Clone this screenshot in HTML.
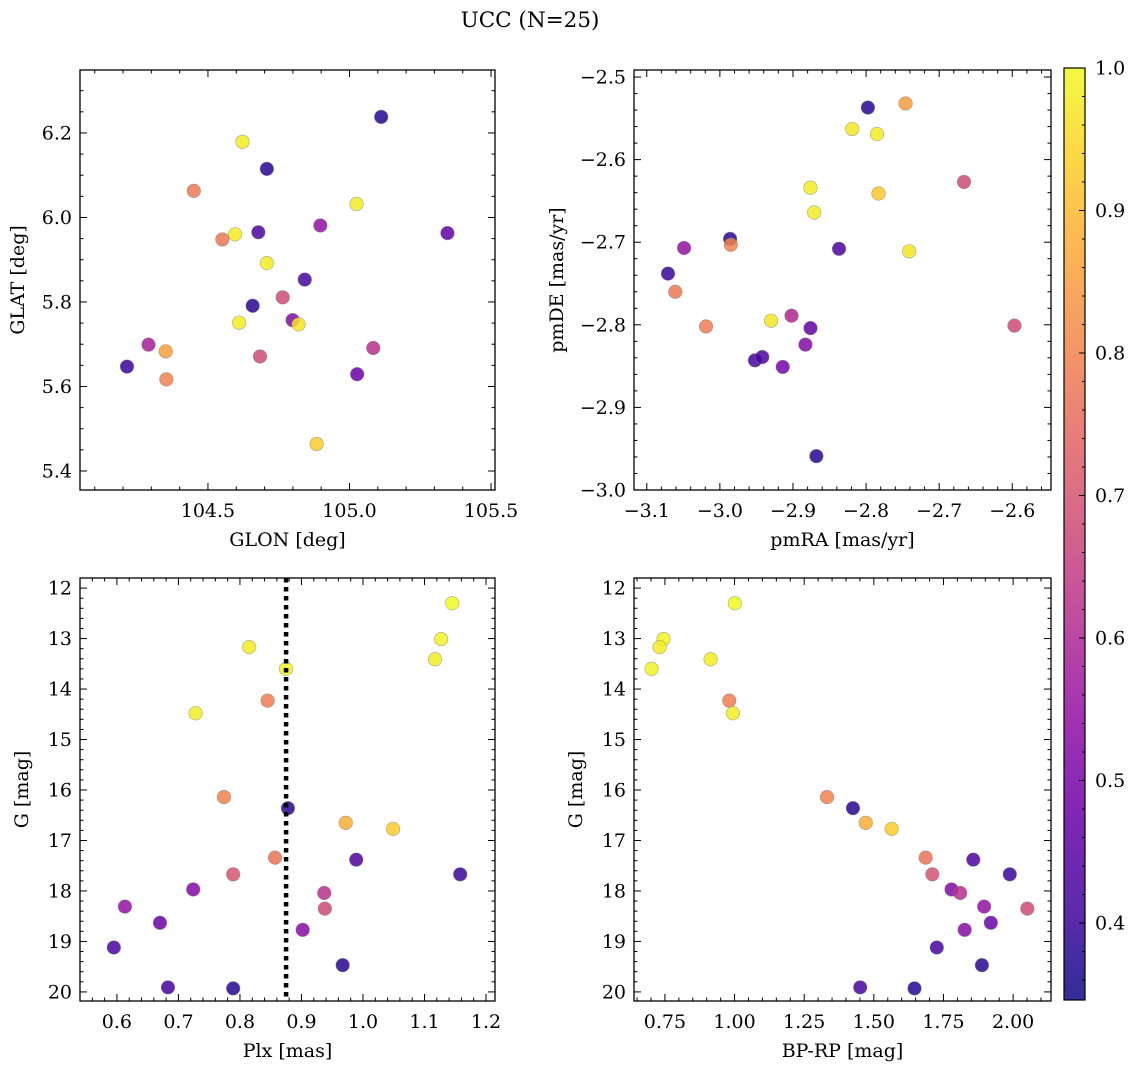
<!DOCTYPE html>
<html><head><meta charset="utf-8">
<style>
html,body{margin:0;padding:0;background:#fff;}
svg{display:block;font-family:"DejaVu Serif","Liberation Serif",serif;}
</style></head>
<body>
<svg id="fig" width="1136" height="1068" viewBox="0 0 1136 1068" xmlns="http://www.w3.org/2000/svg">
<text x="530" y="27" font-size="21.5" text-anchor="middle">UCC (N=25)</text>
</svg>
<script>
// Panel 1: GLON/GLAT
const glon = [105.112,104.622,104.708,104.450,105.025,104.551,104.596,104.678,104.897,105.346,104.708,104.842,104.658,104.764,104.799,104.820,104.610,104.290,104.351,104.684,105.084,104.214,104.353,105.027,104.884];
const glat = [6.238,6.179,6.115,6.063,6.032,5.948,5.960,5.965,5.981,5.963,5.892,5.853,5.791,5.811,5.757,5.747,5.751,5.699,5.683,5.671,5.691,5.647,5.617,5.629,5.464];
const probPos = [0.38,0.98,0.38,0.78,0.98,0.78,0.98,0.43,0.55,0.46,0.98,0.42,0.38,0.68,0.52,0.97,0.98,0.58,0.85,0.68,0.62,0.40,0.80,0.48,0.93];
// Panel 2: proper motions
const pmra = [-2.7975,-2.746,-2.819,-2.785,-2.876,-2.783,-2.871,-2.666,-2.986,-2.985,-3.049,-2.837,-2.741,-3.071,-3.061,-2.597,-3.019,-2.930,-2.902,-2.876,-2.883,-2.952,-2.942,-2.914,-2.868];
const pmde = [-2.537,-2.532,-2.563,-2.569,-2.634,-2.641,-2.664,-2.627,-2.696,-2.703,-2.707,-2.708,-2.711,-2.738,-2.760,-2.801,-2.802,-2.795,-2.789,-2.804,-2.824,-2.843,-2.839,-2.851,-2.959];
const probPm = [0.38,0.85,0.97,0.98,0.98,0.92,0.98,0.68,0.38,0.80,0.55,0.43,0.97,0.40,0.78,0.68,0.79,0.97,0.60,0.47,0.52,0.42,0.43,0.50,0.38];
// Panels 3 & 4: photometry
const plx  = [1.145,1.127,0.815,1.117,0.875,0.845,0.728,0.774,0.878,0.972,1.049,0.857,0.989,1.158,0.789,0.724,0.937,0.613,0.938,0.670,0.902,0.595,0.967,0.683,0.789];
const gmag = [12.30,13.01,13.17,13.41,13.60,14.23,14.48,16.14,16.36,16.65,16.77,17.34,17.38,17.67,17.67,17.97,18.04,18.31,18.35,18.63,18.77,19.12,19.47,19.91,19.93];
const bprp = [1.001,0.745,0.731,0.914,0.702,0.981,0.994,1.332,1.425,1.471,1.564,1.686,1.857,1.988,1.710,1.779,1.810,1.896,2.051,1.920,1.826,1.726,1.888,1.451,1.646];
const probPh = [1.0,0.99,0.98,0.98,0.99,0.79,0.98,0.80,0.38,0.88,0.93,0.77,0.43,0.40,0.70,0.52,0.62,0.55,0.68,0.48,0.53,0.42,0.38,0.42,0.38];
const plxLine = 0.875;
const cbMin = 0.346, cbMax = 1.0;
const cbTicks = [0.4,0.5,0.6,0.7,0.8,0.9,1.0];

const NS = "http://www.w3.org/2000/svg";
const svg = document.getElementById('fig');
function mk(tag, attrs, parent){const e=document.createElementNS(NS,tag);for(const k in attrs)e.setAttribute(k,attrs[k]);(parent||svg).appendChild(e);return e;}

const stops=[[0,[13,8,135]],[0.1,[65,4,157]],[0.2,[106,0,168]],[0.3,[143,13,164]],[0.4,[177,42,144]],[0.5,[204,71,120]],[0.6,[225,100,98]],[0.7,[242,132,75]],[0.8,[252,166,54]],[0.9,[252,206,37]],[1,[240,249,33]]];
function plasma(t){t=Math.max(0,Math.min(1,t));for(let i=1;i<stops.length;i++){if(t<=stops[i][0]){const a=stops[i-1],b=stops[i];const f=(t-a[0])/(b[0]-a[0]);const c=a[1].map((v,j)=>Math.round(v+(b[1][j]-v)*f));return `rgb(${c[0]},${c[1]},${c[2]})`;}}return 'rgb(240,249,33)';}
function cmap(v){return plasma((v-cbMin)/(cbMax-cbMin));}

function fmt(v,d){let s=v.toFixed(d);if(v<0)s='\u2212'+s.slice(1);return s;}
const TF=19, LF=19;

function panel(name, box, xr, yr, xMaj, xMin, yMaj, yMin, xd, yd, xlabel, ylabel, ylabX, invertY){
  const g=mk('g',{});
  
  
  const [L,T,R,B]=box;
  const sx=v=>L+(v-xr[0])/(xr[1]-xr[0])*(R-L);
  const sy=invertY? (v=>T+(v-yr[0])/(yr[1]-yr[0])*(B-T)) : (v=>B-(v-yr[0])/(yr[1]-yr[0])*(B-T));
  const eps=1e-9;
  for(let v=Math.ceil(xr[0]/xMin-eps)*xMin; v<=xr[1]+eps; v+=xMin){
    const isMaj=Math.abs(v/xMaj-Math.round(v/xMaj))<1e-6; const len=isMaj?7:3.5; const x=sx(v);
    mk('line',{x1:x,y1:B,x2:x,y2:B-len,stroke:'#000','stroke-width':1},g);
    mk('line',{x1:x,y1:T,x2:x,y2:T+len,stroke:'#000','stroke-width':1},g);
    if(isMaj){const t=mk('text',{x:x,y:B+27,'font-size':TF,'text-anchor':'middle'},g);t.textContent=fmt(v,xd);
      
      }
  }
  const ylo=Math.min(yr[0],yr[1]), yhi=Math.max(yr[0],yr[1]);
  for(let v=Math.ceil(ylo/yMin-eps)*yMin; v<=yhi+eps; v+=yMin){
    const isMaj=Math.abs(v/yMaj-Math.round(v/yMaj))<1e-6; const len=isMaj?7:3.5; const y=sy(v);
    mk('line',{x1:L,y1:y,x2:L+len,y2:y,stroke:'#000','stroke-width':1},g);
    mk('line',{x1:R,y1:y,x2:R-len,y2:y,stroke:'#000','stroke-width':1},g);
    if(isMaj){const t=mk('text',{x:L-8,y:y+6.5,'font-size':TF,'text-anchor':'end'},g);t.textContent=fmt(v,yd);
      
      }
  }
  mk('rect',{x:L,y:T,width:R-L,height:B-T,fill:'none',stroke:'#000','stroke-width':1.3},g);
  const xl=mk('text',{x:(L+R)/2,y:B+56,'font-size':LF,'text-anchor':'middle'},g);xl.textContent=xlabel;
  
  
  const yl=mk('text',{x:ylabX,y:(T+B)/2,'font-size':LF,'text-anchor':'middle',transform:`rotate(-90 ${ylabX} ${(T+B)/2})`},g);yl.textContent=ylabel;
  
  
  return {g,sx,sy};
}
function scatter(p, xs, ys, cs){
  for(let i=0;i<xs.length;i++){
    const c=mk('circle',{cx:p.sx(xs[i]),cy:p.sy(ys[i]),r:6.8,fill:cmap(cs[i]),'fill-opacity':0.85,stroke:'#777','stroke-opacity':0.6,'stroke-width':0.6},p.g);
    
    
  }
}

const p1=panel('panel-glon-glat',[80,70,495,490],[104.048,105.514],[5.355,6.349],0.5,0.1,0.2,0.05,1,1,'GLON [deg]','GLAT [deg]',24,false);
scatter(p1,glon,glat,probPos);
const p2=panel('panel-proper-motion',[634,70,1051,490],[-3.1175,-2.547],[-3.0,-2.4915],0.1,0.02,0.1,0.02,1,1,'pmRA [mas/yr]','pmDE [mas/yr]',563,false);
scatter(p2,pmra,pmde,probPm);
const p3=panel('panel-plx-g',[80,578,495,1001],[0.54,1.2146],[11.80,20.18],0.1,0.02,1,0.2,1,0,'Plx [mas]','G [mag]',28,true);
scatter(p3,plx,gmag,probPh);
const ln=mk('line',{x1:p3.sx(plxLine),y1:578,x2:p3.sx(plxLine),y2:1001,stroke:'#000','stroke-width':4.5,'stroke-dasharray':'4.5 4.5'},p3.g);


const p4=panel('panel-cmd',[634,578,1051,1001],[0.639,2.136],[11.80,20.18],0.25,0.05,1,0.2,2,0,'BP-RP [mag]','G [mag]',582,true);
scatter(p4,bprp,gmag,probPh);

// colorbar
const cb=mk('g',{});


const defs=mk('defs',{});
const lg=mk('linearGradient',{id:'cbg',x1:0,y1:1,x2:0,y2:0},defs);
for(let i=0;i<=20;i++){const t=i/20;mk('stop',{offset:t,'stop-color':plasma(t),'stop-opacity':0.85},lg);}
const CT=68,CB=1000,CL=1064,CR=1085;
mk('rect',{x:CL,y:CT,width:CR-CL,height:CB-CT,fill:'url(#cbg)',stroke:'#000','stroke-width':1.2},cb);
const cy=v=>CB-(v-cbMin)/(cbMax-cbMin)*(CB-CT);
for(let v=0.36;v<=1.0001;v+=0.02){const y=cy(v);mk('line',{x1:CR,y1:y,x2:CR-3,y2:y,stroke:'#000','stroke-width':1},cb);}
cbTicks.forEach(v=>{const y=cy(v);mk('line',{x1:CR,y1:y,x2:CR-6,y2:y,stroke:'#000','stroke-width':1},cb);
  const t=mk('text',{x:CR+10,y:y+6.5,'font-size':TF},cb);t.textContent=v.toFixed(1);
  
  });
</script>
</body></html>
